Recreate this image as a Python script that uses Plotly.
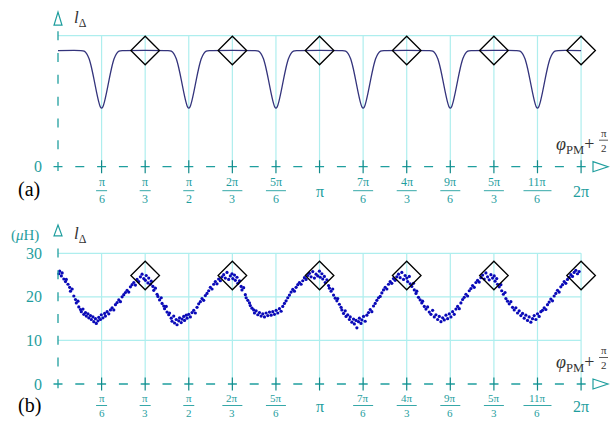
import numpy as np
import plotly.graph_objects as go

PI = np.pi

# ---------------- data ----------------
# x tick positions: multiples of pi/6 (k = 1..12)
tick_k = [1, 2, 3, 4, 5, 6, 7, 8, 9, 10, 11, 12]
tick_num = ["π", "π", "π", "2π", "5π", "π", "7π", "4π", "9π", "5π", "11π", "2π"]
tick_den = ["6", "3", "2", "3", "6", "", "6", "3", "6", "3", "6", ""]

# panel (a): model curve = flat level with identical dips
flat_level = 26.6
dip_centers = [PI / 6, PI / 2, 5 * PI / 6, 7 * PI / 6, 3 * PI / 2, 11 * PI / 6]
dip_offsets = [-0.25, -0.21, -0.18, -0.15, -0.12, -0.09, -0.06, -0.035, -0.015, 0.0,
               0.015, 0.035, 0.06, 0.09, 0.12, 0.15, 0.18, 0.21, 0.25]
dip_values = [26.6, 26.45, 25.9, 24.7, 22.6, 19.9, 17.0, 14.9, 13.7, 13.4,
              13.7, 14.9, 17.0, 19.9, 22.6, 24.7, 25.9, 26.45, 26.6]

# diamonds (optimum points)
diamond_x = [PI / 3, 2 * PI / 3, PI, 4 * PI / 3, 5 * PI / 3, 2 * PI]
diamond_top = [26.6, 26.6, 26.6, 26.6, 26.6, 26.6]
diamond_bottom = [24.9, 24.9, 24.9, 24.9, 24.9, 24.9]

# panel (b): measured points (rad, uH)
meas_x = [
    0.01, 0.02, 0.04, 0.05, 0.07, 0.09, 0.10, 0.12, 0.14, 0.15, 0.17, 0.19, 0.21, 0.22, 0.24,
    0.25, 0.27, 0.28, 0.30, 0.31, 0.33, 0.34, 0.36, 0.37, 0.39, 0.40, 0.42, 0.43, 0.45, 0.46,
    0.48, 0.49, 0.51, 0.52, 0.54, 0.56, 0.57, 0.59, 0.61, 0.63, 0.65, 0.67, 0.69, 0.71, 0.73,
    0.75, 0.77, 0.79, 0.81, 0.83, 0.85, 0.87, 0.89, 0.91, 0.93, 0.95, 0.97, 0.99, 1.01, 1.03,
    1.05, 1.06, 1.08, 1.09, 1.11, 1.12, 1.14, 1.15, 1.17, 1.19, 1.20, 1.22, 1.24, 1.25, 1.27,
    1.28, 1.30, 1.31, 1.33, 1.34, 1.36, 1.37, 1.39, 1.40, 1.42, 1.43, 1.45, 1.46, 1.48, 1.49,
    1.51, 1.52, 1.54, 1.55, 1.57, 1.59, 1.61, 1.63, 1.65, 1.67, 1.69, 1.71, 1.73, 1.75, 1.77,
    1.79, 1.81, 1.83, 1.85, 1.87, 1.89, 1.91, 1.93, 1.95, 1.97, 1.99, 2.01, 2.03, 2.05, 2.07,
    2.09, 2.10, 2.12, 2.13, 2.15, 2.16, 2.18, 2.20, 2.21, 2.23, 2.25, 2.26, 2.28, 2.30, 2.31,
    2.33, 2.35, 2.36, 2.38, 2.40, 2.42, 2.44, 2.46, 2.48, 2.50, 2.52, 2.54, 2.56, 2.58, 2.60,
    2.62, 2.64, 2.66, 2.68, 2.70, 2.72, 2.74, 2.76, 2.78, 2.80, 2.82, 2.84, 2.86, 2.88, 2.90,
    2.92, 2.94, 2.96, 2.98, 3.00, 3.02, 3.04, 3.06, 3.08, 3.10, 3.12,
    3.14, 3.15, 3.17, 3.18, 3.20, 3.21, 3.23, 3.25, 3.26, 3.28, 3.30, 3.31, 3.33, 3.35, 3.36,
    3.38, 3.40, 3.41, 3.43, 3.45, 3.46, 3.48, 3.50, 3.51, 3.53, 3.55, 3.56, 3.58, 3.59, 3.61,
    3.62, 3.64, 3.65, 3.67, 3.69, 3.71, 3.73, 3.75, 3.77, 3.79, 3.81, 3.83, 3.85, 3.87, 3.89,
    3.91, 3.93, 3.95, 3.97, 3.99, 4.01, 4.03, 4.05, 4.07, 4.09, 4.11, 4.13, 4.15, 4.17,
    4.19, 4.20, 4.22, 4.23, 4.25, 4.27, 4.28, 4.30, 4.31, 4.33, 4.35, 4.37, 4.38, 4.40, 4.42,
    4.44, 4.46, 4.48, 4.50, 4.52, 4.54, 4.56, 4.58, 4.60, 4.62, 4.64, 4.66, 4.68, 4.70, 4.72,
    4.74, 4.76, 4.78, 4.80, 4.82, 4.84, 4.86, 4.88, 4.90, 4.92, 4.94, 4.96, 4.98, 5.00, 5.02,
    5.04, 5.06, 5.08, 5.10, 5.12, 5.14, 5.16, 5.18, 5.20, 5.22,
    5.24, 5.25, 5.27, 5.28, 5.30, 5.32, 5.33, 5.35, 5.37, 5.38, 5.40, 5.42, 5.44, 5.46, 5.48,
    5.50, 5.52, 5.54, 5.56, 5.58, 5.60, 5.62, 5.64, 5.66, 5.68, 5.70, 5.72, 5.74, 5.76, 5.78,
    5.80, 5.82, 5.84, 5.86, 5.88, 5.90, 5.92, 5.94, 5.96, 5.98, 6.00, 6.02, 6.04, 6.06, 6.08,
    6.10, 6.12, 6.14, 6.16, 6.18, 6.20, 6.22, 6.24, 6.26,
]
meas_y = [
    25.3, 25.9, 24.8, 25.5, 24.1, 23.5, 24.0, 22.9, 22.2, 21.3, 21.8, 20.2, 19.4, 18.6, 19.0,
    17.7, 17.1, 16.6, 17.2, 16.0, 16.4, 15.6, 16.1, 15.2, 15.7, 14.8, 15.4, 14.3, 15.0, 13.9,
    14.5, 15.3, 14.8, 15.9, 15.2, 16.2, 15.6, 16.6, 16.1, 17.0, 17.5, 17.0, 18.2, 18.7, 19.3,
    18.9, 20.0, 20.5, 21.0, 21.5, 21.1, 22.3, 22.8, 23.3, 22.7, 24.0, 23.5, 24.6, 25.2, 24.2,
    23.8, 24.9, 23.2, 24.3, 22.9, 23.6, 22.4, 21.5, 22.0, 20.6, 20.1, 19.3, 19.8, 18.5, 17.9,
    17.3, 17.8, 16.5, 15.9, 16.3, 15.1, 14.4, 15.6, 14.0, 14.8, 13.6, 14.5, 15.2, 14.1, 14.9,
    15.5, 14.6, 15.8, 15.1, 16.0, 15.4, 16.4, 16.9, 16.3, 17.6, 18.4, 18.9, 19.6, 19.2, 20.3,
    20.8, 21.4, 22.2, 21.8, 22.9, 23.5, 23.0, 24.1, 23.7, 24.6, 25.1, 24.3, 25.6, 24.0, 24.8,
    25.3, 24.2, 25.0, 23.8, 24.5, 23.1, 23.7, 22.4, 21.6, 22.1, 20.5, 19.8, 19.2, 18.6, 18.0,
    17.4, 17.0, 16.3, 16.8, 15.9, 16.4, 15.6, 16.1, 15.4, 16.3, 15.7, 16.5, 15.8, 16.6, 16.0,
    16.9, 16.3, 17.3, 16.7, 17.8, 18.5, 19.1, 19.8, 20.4, 21.1, 21.7, 21.3, 22.2, 22.8, 23.3,
    22.9, 23.7, 24.4, 24.0, 24.9, 25.4, 24.6, 25.8, 24.3, 25.2, 24.8,
    25.9, 24.5, 25.3, 24.1, 24.7, 23.3, 23.9, 22.6, 22.0, 21.3, 21.8, 20.4, 19.7, 19.1, 19.6,
    18.3, 17.6, 17.0, 16.2, 16.8, 15.5, 15.9, 14.8, 15.4, 14.2, 14.9, 13.8, 14.6, 12.9, 14.3,
    15.1, 13.9, 14.7, 15.5, 14.4, 15.8, 16.4, 17.1, 16.6, 17.9, 18.5, 19.2, 19.8, 20.1, 20.9,
    21.6, 22.2, 21.8, 22.9, 23.5, 23.1, 24.2, 23.8, 24.6, 25.2, 24.4, 25.6, 24.0, 24.9,
    24.3, 23.5, 24.7, 23.0, 22.4, 23.1, 21.6, 20.8, 21.3, 19.9, 19.3, 18.6, 19.0, 17.8, 17.2,
    17.7, 16.5, 16.0, 16.9, 15.4, 15.9, 14.8, 15.5, 14.3, 15.2, 14.7, 15.8, 15.0, 16.1, 15.4,
    16.6, 16.0, 17.2, 17.8, 17.3, 18.6, 19.4, 19.9, 20.6, 20.2, 21.4, 21.9, 22.6, 22.2, 23.3,
    23.8, 23.4, 24.4, 25.0, 24.1, 25.5, 24.6, 23.9, 25.1, 24.3,
    24.8, 23.6, 24.2, 22.9, 22.3, 22.8, 21.4, 20.6, 21.0, 19.6, 19.0, 18.4, 18.9, 17.6, 17.0,
    17.5, 16.3, 16.8, 15.7, 16.2, 15.1, 15.8, 14.6, 15.4, 14.2, 15.0, 15.7, 14.8, 16.1, 15.5,
    16.6, 16.9, 17.5, 17.1, 18.2, 18.8, 19.5, 19.1, 20.2, 20.8, 21.5, 21.1, 22.3, 22.8, 23.5,
    23.1, 24.0, 24.5, 25.1, 24.7, 25.6, 26.1, 25.3, 25.8,
]

y_ticks_b = [0, 10, 20, 30]
grid_h_top = [30]
grid_h_bottom = [10, 20, 30]

# ---------------- styling ----------------
TEAL = "#1f9e9e"
TEAL_DARK = "#128a8a"
GRID = "#aeeeee"
SERIF = "Liberation Serif, DejaVu Serif, serif"
W, H = 610, 421
PX_PER_RAD = 83.25

curve_x = [0.0]
curve_y = [flat_level]
for c in dip_centers:
    for o, v in zip(dip_offsets, dip_values):
        curve_x.append(c + o)
        curve_y.append(v)
curve_x.append(2 * PI)
curve_y.append(flat_level)

fig = go.Figure()
fig.add_trace(go.Scatter(x=curve_x, y=curve_y, mode="lines",
                         line=dict(color="#34347c", width=1.3, shape="spline", smoothing=0.5),
                         xaxis="x", yaxis="y", hoverinfo="skip"))
fig.add_trace(go.Scatter(x=diamond_x, y=diamond_top, mode="markers",
                         marker=dict(symbol="diamond-open", size=22,
                                     line=dict(color="black", width=1.3), color="black"),
                         xaxis="x", yaxis="y"))
fig.add_trace(go.Scatter(x=meas_x, y=meas_y, mode="markers",
                         marker=dict(color="#0a0ab8", size=3.2),
                         xaxis="x2", yaxis="y2"))
fig.add_trace(go.Scatter(x=diamond_x, y=diamond_bottom, mode="markers",
                         marker=dict(symbol="diamond-open", size=22,
                                     line=dict(color="black", width=1.3), color="black"),
                         xaxis="x2", yaxis="y2"))

shapes = []
annotations = []

panels = [
    # (xref, yref, axis pixel row, y at arrow base, y at arrow tip, horizontal grid,
    #  px per unit, fraction-bar offset, fraction font size)
    ("x", "y", 166.7, 32.4, 35.4, grid_h_top, 4.367, 24, 12),
    ("x2", "y2", 384.0, 34.0, 36.5, grid_h_bottom, 4.357, 21.5, 11),
]

for xr, yr, axis_py, y_base, y_tip, hgrid, pxu, bar_off, ffs in panels:
    # grid
    for k in tick_k:
        shapes.append(dict(type="line", xref=xr, yref=yr, x0=k * PI / 6, x1=k * PI / 6,
                           y0=0, y1=30, line=dict(color=GRID, width=1.2), layer="below"))
    for g in hgrid:
        shapes.append(dict(type="line", xref=xr, yref=yr, x0=0, x1=2 * PI, y0=g, y1=g,
                           line=dict(color=GRID, width=1.2), layer="below"))
    # dashed x axis
    x_base = (593 - 58) / PX_PER_RAD
    x_tip = (608 - 58) / PX_PER_RAD
    shapes.append(dict(type="line", xref=xr, yref=yr, x0=-4.5 / PX_PER_RAD, x1=x_base,
                       y0=0, y1=0, line=dict(color=TEAL, width=1.3, dash="9px,12.8px")))
    # dashed y axis
    shapes.append(dict(type="line", xref=xr, yref=yr, x0=0, x1=0, y0=-1.0, y1=y_base,
                       line=dict(color=TEAL, width=1.3, dash="9px,12.8px")))
    # arrow heads (open triangles)
    hw = 4.0 / PX_PER_RAD
    shapes.append(dict(type="path", xref=xr, yref=yr,
                       path=f"M {-hw},{y_base} L 0,{y_tip} L {hw},{y_base} Z",
                       fillcolor="white", line=dict(color=TEAL, width=1.2)))
    hh = 5.0 / pxu
    shapes.append(dict(type="path", xref=xr, yref=yr,
                       path=f"M {x_base},{-hh} L {x_tip},0 L {x_base},{hh} Z",
                       fillcolor="white", line=dict(color=TEAL, width=1.2)))
    # tick marks
    for k in tick_k:
        shapes.append(dict(type="line", xref=xr, yref=yr, x0=k * PI / 6, x1=k * PI / 6,
                           y0=-6.5 / pxu, y1=6.5 / pxu,
                           line=dict(color=TEAL_DARK, width=1.2)))
    # tick labels
    bar_py = axis_py + bar_off
    for k, n, d in zip(tick_k, tick_num, tick_den):
        xv = k * PI / 6
        if d == "":
            annotations.append(dict(x=xv, xref=xr, y=1 - (axis_py + bar_off + 1) / H, yref="paper",
                                    text=n, showarrow=False, xanchor="center", yanchor="middle",
                                    font=dict(family=SERIF, size=16, color=TEAL)))
        else:
            annotations.append(dict(x=xv, xref=xr, y=1 - (bar_py - 0.3) / H, yref="paper",
                                    text=n, showarrow=False, xanchor="center", yanchor="bottom",
                                    borderpad=0,
                                    font=dict(family=SERIF, size=ffs, color=TEAL)))
            annotations.append(dict(x=xv, xref=xr, y=1 - (bar_py + 0.3) / H, yref="paper",
                                    text=d, showarrow=False, xanchor="center", yanchor="top",
                                    borderpad=0,
                                    font=dict(family=SERIF, size=ffs, color=TEAL)))
            half = 5.5 if len(n) == 1 else (10 if len(n) == 2 else 14)
            shapes.append(dict(type="line", xref=xr, yref="paper",
                               x0=xv - half / PX_PER_RAD, x1=xv + half / PX_PER_RAD,
                               y0=1 - bar_py / H, y1=1 - bar_py / H,
                               line=dict(color=TEAL, width=0.9)))
    # phi label
    lab_py = axis_py - 21
    annotations.append(dict(x=596 / W, xref="paper", y=1 - lab_py / H, yref="paper",
                            text="<i>φ</i><sub>PM</sub>+", showarrow=False,
                            xanchor="right", yanchor="middle",
                            font=dict(family=SERIF, size=18, color="#333333")))
    annotations.append(dict(x=603.5 / W, xref="paper", y=1 - (lab_py - 6) / H, yref="paper",
                            text="π", showarrow=False, xanchor="center", yanchor="bottom",
                            borderpad=0, font=dict(family=SERIF, size=11, color="#333333")))
    annotations.append(dict(x=603.5 / W, xref="paper", y=1 - (lab_py - 5) / H, yref="paper",
                            text="2", showarrow=False, xanchor="center", yanchor="top",
                            borderpad=0, font=dict(family=SERIF, size=11, color="#333333")))
    shapes.append(dict(type="line", xref="paper", yref="paper",
                       x0=599 / W, x1=608 / W, y0=1 - (lab_py - 5.5) / H, y1=1 - (lab_py - 5.5) / H,
                       line=dict(color="#333333", width=0.8)))

# y labels
annotations.append(dict(x=44 / W, xref="paper", y=0, yref="y", text="0", showarrow=False,
                        xanchor="right", yanchor="middle",
                        font=dict(family=SERIF, size=16, color=TEAL)))
for v in y_ticks_b:
    annotations.append(dict(x=44 / W, xref="paper", y=v, yref="y2", text=str(v), showarrow=False,
                            xanchor="right", yanchor="middle",
                            font=dict(family=SERIF, size=16, color=TEAL)))

# l_delta, units, panel letters
for py in (19, 235):
    annotations.append(dict(x=72 / W, xref="paper", y=1 - py / H, yref="paper",
                            text="<i>l</i><sub>Δ</sub>", showarrow=False,
                            xanchor="left", yanchor="middle",
                            font=dict(family=SERIF, size=17, color="#333333")))
annotations.append(dict(x=25 / W, xref="paper", y=1 - 235 / H, yref="paper",
                        text="(<i>μ</i>H)", showarrow=False, xanchor="center", yanchor="middle",
                        font=dict(family=SERIF, size=15, color=TEAL)))
annotations.append(dict(x=29 / W, xref="paper", y=1 - 190 / H, yref="paper",
                        text="(a)", showarrow=False, xanchor="center", yanchor="middle",
                        font=dict(family=SERIF, size=20, color="black")))
annotations.append(dict(x=29 / W, xref="paper", y=1 - 405 / H, yref="paper",
                        text="(b)", showarrow=False, xanchor="center", yanchor="middle",
                        font=dict(family=SERIF, size=20, color="black")))

x_range = [-58 / PX_PER_RAD, (W - 58) / PX_PER_RAD]
fig.update_layout(
    width=W, height=H,
    margin=dict(l=0, r=0, t=0, b=0),
    paper_bgcolor="white", plot_bgcolor="white",
    showlegend=False,
    xaxis=dict(domain=[0, 1], range=x_range, visible=False, anchor="y"),
    xaxis2=dict(domain=[0, 1], range=x_range, visible=False, anchor="y2"),
    yaxis=dict(domain=[0.5, 1], range=[-10.03, 38.17], visible=False, anchor="x"),
    yaxis2=dict(domain=[0, 0.5], range=[-8.49, 39.82], visible=False, anchor="x2"),
    shapes=shapes,
    annotations=annotations,
)

fig.write_html("out.html", config={"displayModeBar": False},
               post_script="document.body.style.margin='0';document.body.style.overflow='hidden';")
